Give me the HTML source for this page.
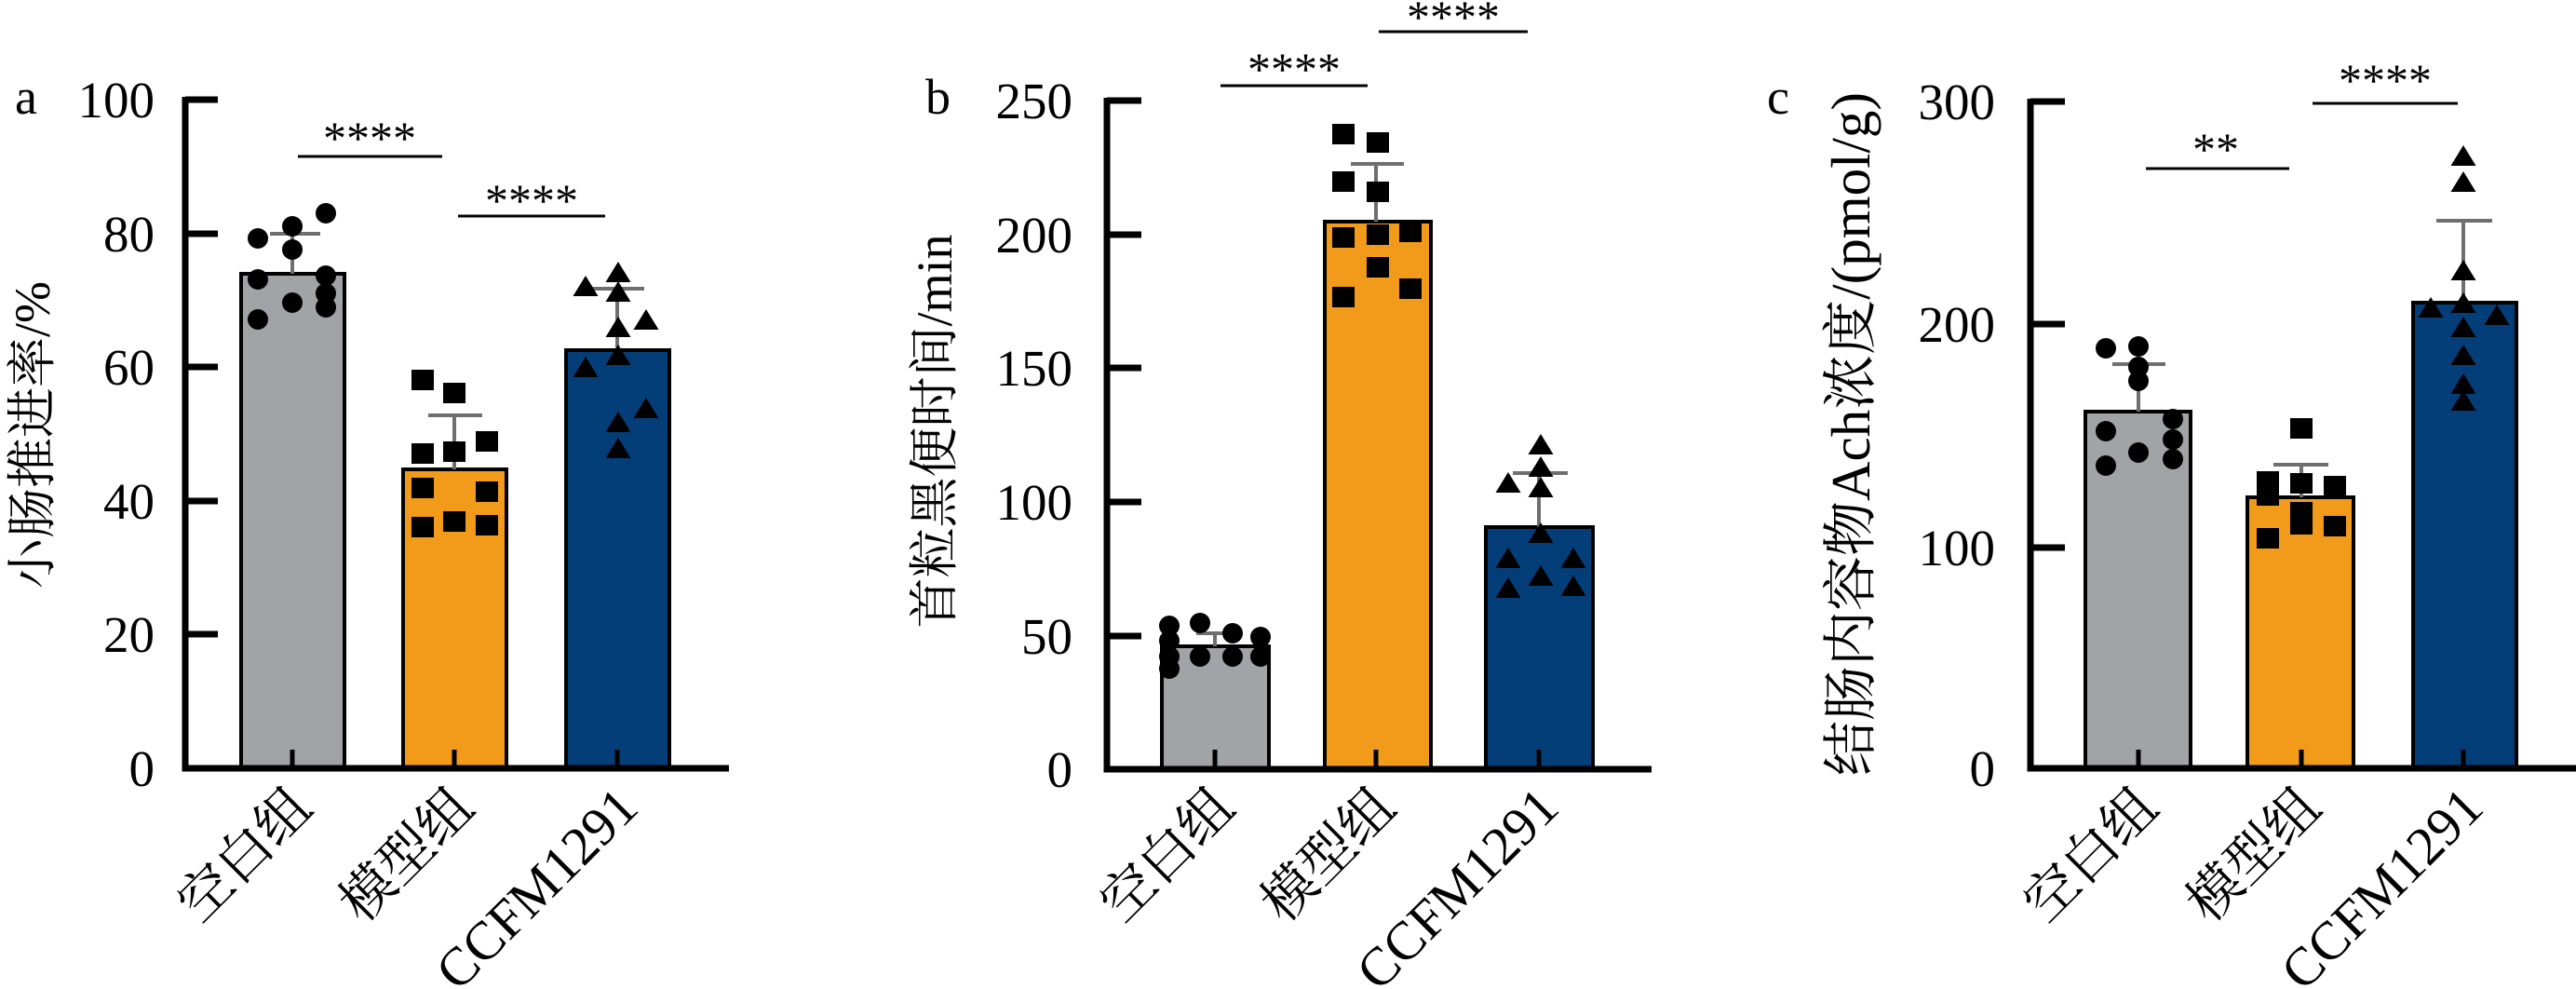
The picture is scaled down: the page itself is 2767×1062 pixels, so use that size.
<!DOCTYPE html>
<html><head><meta charset="utf-8"><style>
html,body{margin:0;padding:0;background:#fff;}
svg{display:block;}
.t{font-family:"Liberation Serif","Noto Serif CJK SC",serif;fill:#000;}
.tk{font-size:55px;text-anchor:end;}
.st{font-size:50px;text-anchor:middle;}
.yl{font-size:54px;text-anchor:middle;}
.xl{font-size:58px;text-anchor:end;}
</style></head><body>
<svg width="2767" height="1062" viewBox="0 0 2767 1062" xmlns="http://www.w3.org/2000/svg">
<g stroke="#000" stroke-width="4">
<rect x="259" y="294" width="111" height="531" fill="#a2a3a7"/>
<rect x="433" y="504" width="111" height="321" fill="#f29b1b"/>
<rect x="608" y="376" width="111" height="449" fill="#043e78"/>
<rect x="1248" y="694" width="115" height="132" fill="#a2a3a7"/>
<rect x="1423" y="238" width="114" height="588" fill="#f29b1b"/>
<rect x="1596" y="566" width="115" height="260" fill="#043e78"/>
<rect x="2240" y="442" width="113" height="383" fill="#a2a3a7"/>
<rect x="2414" y="534" width="114" height="291" fill="#f29b1b"/>
<rect x="2592" y="325" width="111" height="500" fill="#043e78"/>
</g>
<g stroke="#6f6f6f" stroke-width="4">
<line x1="314" y1="294" x2="314" y2="251"/><line x1="290" y1="251" x2="344" y2="251"/>
<line x1="488" y1="504" x2="488" y2="446"/><line x1="460" y1="446" x2="518" y2="446"/>
<line x1="663" y1="376" x2="663" y2="310"/><line x1="634" y1="310" x2="692" y2="310"/>
<line x1="1305" y1="694" x2="1305" y2="680"/><line x1="1285" y1="680" x2="1330" y2="680"/>
<line x1="1478" y1="238" x2="1478" y2="176"/><line x1="1451" y1="176" x2="1508" y2="176"/>
<line x1="1653" y1="566" x2="1653" y2="508"/><line x1="1625" y1="508" x2="1684" y2="508"/>
<line x1="2297" y1="442" x2="2297" y2="391"/><line x1="2269" y1="391" x2="2326" y2="391"/>
<line x1="2472" y1="534" x2="2472" y2="499"/><line x1="2442" y1="499" x2="2501" y2="499"/>
<line x1="2646" y1="325" x2="2646" y2="237"/><line x1="2617" y1="237" x2="2677" y2="237"/>
</g>
<g stroke="#000" stroke-width="7" fill="none">
<polyline points="199,104 199,825 783,825"/>
<line x1="199" y1="107" x2="234" y2="107"/><line x1="199" y1="251" x2="234" y2="251"/><line x1="199" y1="394" x2="234" y2="394"/><line x1="199" y1="538" x2="234" y2="538"/><line x1="199" y1="681" x2="234" y2="681"/>
<polyline points="1189,105 1189,826 1774,826"/>
<line x1="1189" y1="108" x2="1226" y2="108"/><line x1="1189" y1="252" x2="1226" y2="252"/><line x1="1189" y1="395" x2="1226" y2="395"/><line x1="1189" y1="539" x2="1226" y2="539"/><line x1="1189" y1="683" x2="1226" y2="683"/>
<polyline points="2181,106 2181,825 2767,825"/>
<line x1="2181" y1="109" x2="2218" y2="109"/><line x1="2181" y1="348" x2="2218" y2="348"/><line x1="2181" y1="588" x2="2218" y2="588"/>
</g>
<g stroke="#000" stroke-width="5">
<line x1="314" y1="805" x2="314" y2="825"/><line x1="488" y1="805" x2="488" y2="825"/><line x1="663" y1="805" x2="663" y2="825"/>
<line x1="1305" y1="805" x2="1305" y2="826"/><line x1="1478" y1="805" x2="1478" y2="826"/><line x1="1653" y1="805" x2="1653" y2="826"/>
<line x1="2297" y1="805" x2="2297" y2="825"/><line x1="2472" y1="805" x2="2472" y2="825"/><line x1="2646" y1="805" x2="2646" y2="825"/>
</g>
<g stroke="#000" stroke-width="3">
<line x1="320" y1="168" x2="475" y2="168"/><line x1="492" y1="232" x2="650" y2="232"/>
<line x1="1311" y1="92" x2="1469" y2="92"/><line x1="1481" y1="34" x2="1641" y2="34"/>
<line x1="2305" y1="181" x2="2459" y2="181"/><line x1="2484" y1="111" x2="2640" y2="111"/>
</g>
<g class="t st">
<text x="397" y="165">****</text><text x="571" y="232">****</text>
<text x="1390" y="91">****</text><text x="1561" y="35">****</text>
<text x="2380" y="177">**</text><text x="2562" y="103">****</text>
</g>
<g fill="#000">
<circle cx="277" cy="256" r="11"/><circle cx="314" cy="243" r="11"/><circle cx="350" cy="229" r="11"/><circle cx="314" cy="268" r="11"/><circle cx="277" cy="300" r="11"/><circle cx="350" cy="296" r="11"/><circle cx="277" cy="343" r="11"/><circle cx="314" cy="325" r="11"/><circle cx="350" cy="315" r="11"/><circle cx="350" cy="330" r="11"/>
<rect x="442" y="397" width="24" height="22"/><rect x="476" y="411" width="24" height="22"/><rect x="511" y="463" width="24" height="22"/><rect x="442" y="476" width="24" height="22"/><rect x="476" y="474" width="24" height="22"/><rect x="442" y="513" width="24" height="22"/><rect x="511" y="517" width="24" height="22"/><rect x="442" y="555" width="24" height="22"/><rect x="476" y="549" width="24" height="22"/><rect x="511" y="553" width="24" height="22"/>
<polygon points="615.5,318 642.5,318 629,296"/><polygon points="650.5,303 677.5,303 664,281"/><polygon points="650.5,324 677.5,324 664,302"/><polygon points="680.5,354 707.5,354 694,332"/><polygon points="650.5,362 677.5,362 664,340"/><polygon points="615.5,405 642.5,405 629,383"/><polygon points="650.5,392 677.5,392 664,370"/><polygon points="680.5,449 707.5,449 694,427"/><polygon points="650.5,464 677.5,464 664,442"/><polygon points="650.5,492 677.5,492 664,470"/>
<circle cx="1256" cy="672" r="11"/><circle cx="1289" cy="669" r="11"/><circle cx="1324" cy="680" r="11"/><circle cx="1354" cy="684" r="11"/><circle cx="1256" cy="688" r="11"/><circle cx="1256" cy="705" r="11"/><circle cx="1256" cy="718" r="11"/><circle cx="1289" cy="705" r="11"/><circle cx="1324" cy="705" r="11"/><circle cx="1354" cy="705" r="11"/>
<rect x="1431" y="133" width="24" height="22"/><rect x="1468" y="142" width="24" height="22"/><rect x="1431" y="184" width="24" height="22"/><rect x="1468" y="195" width="24" height="22"/><rect x="1431" y="244" width="24" height="22"/><rect x="1468" y="241" width="24" height="22"/><rect x="1503" y="238" width="24" height="22"/><rect x="1468" y="276" width="24" height="22"/><rect x="1431" y="308" width="24" height="22"/><rect x="1503" y="299" width="24" height="22"/>
<polygon points="1641.5,488 1668.5,488 1655,466"/><polygon points="1606.5,529 1633.5,529 1620,507"/><polygon points="1641.5,512 1668.5,512 1655,490"/><polygon points="1641.5,534 1668.5,534 1655,512"/><polygon points="1641.5,583 1668.5,583 1655,561"/><polygon points="1606.5,610 1633.5,610 1620,588"/><polygon points="1676.5,610 1703.5,610 1690,588"/><polygon points="1641.5,629 1668.5,629 1655,607"/><polygon points="1606.5,642 1633.5,642 1620,620"/><polygon points="1676.5,640 1703.5,640 1690,618"/>
<circle cx="2262" cy="374" r="11"/><circle cx="2297" cy="372" r="11"/><circle cx="2297" cy="394" r="11"/><circle cx="2297" cy="409" r="11"/><circle cx="2334" cy="450" r="11"/><circle cx="2262" cy="463" r="11"/><circle cx="2334" cy="472" r="11"/><circle cx="2297" cy="486" r="11"/><circle cx="2262" cy="500" r="11"/><circle cx="2334" cy="493" r="11"/>
<rect x="2460" y="449" width="24" height="22"/><rect x="2424" y="506" width="24" height="22"/><rect x="2424" y="521" width="24" height="22"/><rect x="2460" y="508" width="24" height="22"/><rect x="2460" y="539" width="24" height="22"/><rect x="2460" y="552" width="24" height="22"/><rect x="2496" y="511" width="24" height="22"/><rect x="2496" y="554" width="24" height="22"/><rect x="2424" y="567" width="24" height="22"/>
<polygon points="2632.5,178 2659.5,178 2646,156"/><polygon points="2632.5,206 2659.5,206 2646,184"/><polygon points="2632.5,301 2659.5,301 2646,279"/><polygon points="2597.5,341 2624.5,341 2611,319"/><polygon points="2632.5,336 2659.5,336 2646,314"/><polygon points="2668.5,349 2695.5,349 2682,327"/><polygon points="2632.5,362 2659.5,362 2646,340"/><polygon points="2632.5,392 2659.5,392 2646,370"/><polygon points="2632.5,423 2659.5,423 2646,401"/><polygon points="2632.5,441 2659.5,441 2646,419"/>
</g>
<g class="t tk">
<text x="166" y="126">100</text><text x="166" y="270">80</text><text x="166" y="413">60</text><text x="166" y="557">40</text><text x="166" y="700">20</text><text x="166" y="844">0</text>
<text x="1152" y="127">250</text><text x="1152" y="271">200</text><text x="1152" y="414">150</text><text x="1152" y="558">100</text><text x="1152" y="702">50</text><text x="1152" y="845">0</text>
<text x="2143" y="128">300</text><text x="2143" y="367">200</text><text x="2143" y="607">100</text><text x="2143" y="844">0</text>
</g>
<g class="t" style="font-size:54px">
<text x="16" y="122">a</text><text x="994" y="122">b</text><text x="1898" y="122">c</text>
</g>
<g class="t yl">
<text transform="translate(53,467) rotate(-90)">小肠推进率/%</text>
<text transform="translate(1022,463) rotate(-90)">首粒黑便时间/min</text>
<text transform="translate(2008,466) rotate(-90)" style="font-size:59px">结肠内容物Ach浓度/(pmol/g)</text>
</g>
<g class="t xl">
<text transform="translate(338,870) rotate(-45)">空白组</text>
<text transform="translate(512,870) rotate(-45)">模型组</text>
<text transform="translate(688,870) rotate(-45)">CCFM1291</text>
<text transform="translate(1329,870) rotate(-45)">空白组</text>
<text transform="translate(1502,870) rotate(-45)">模型组</text>
<text transform="translate(1677,870) rotate(-45)">CCFM1291</text>
<text transform="translate(2321,870) rotate(-45)">空白组</text>
<text transform="translate(2496,870) rotate(-45)">模型组</text>
<text transform="translate(2670,870) rotate(-45)">CCFM1291</text>
</g>
</svg>
</body></html>
